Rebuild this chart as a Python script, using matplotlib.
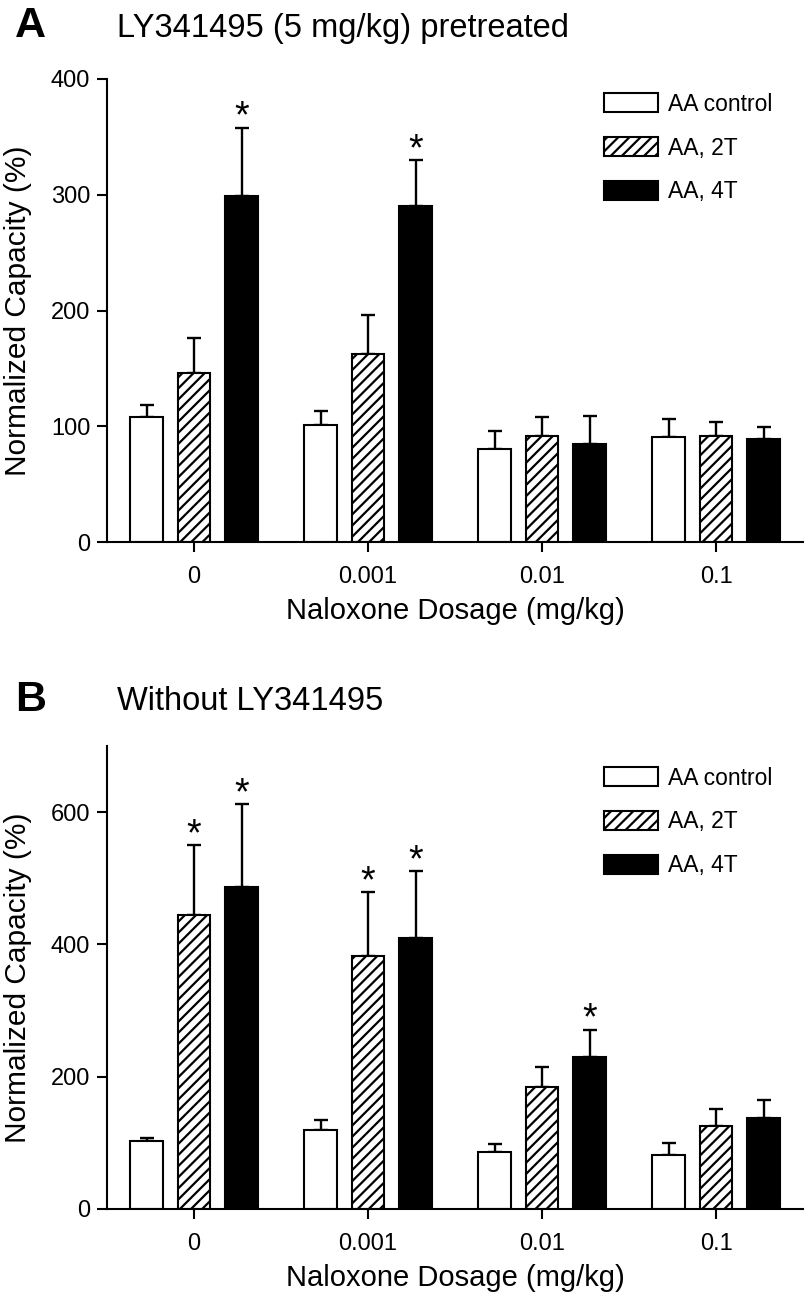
import numpy as np
import matplotlib
matplotlib.use('Agg')
import matplotlib.pyplot as plt
from matplotlib.patches import Patch

plt.rcParams['font.family'] = ['Liberation Sans', 'DejaVu Sans']
plt.rcParams['hatch.linewidth'] = 1.6

# ── Data ──
doses = ['0', '0.001', '0.01', '0.1']
series = ['AA control', 'AA, 2T', 'AA, 4T']

# Panel A: LY341495 pretreated
a_control = [108, 101, 80, 91]
a_control_err = [10, 12, 16, 15]
a_2t = [146, 162, 92, 92]
a_2t_err = [30, 34, 16, 12]
a_4t = [299, 290, 85, 89]
a_4t_err = [59, 40, 24, 10]
a_stars = {2: [0, 1]}  # series index -> dose indices

# Panel B: without LY341495
b_control = [103, 119, 86, 82]
b_control_err = [4, 16, 12, 17]
b_2t = [444, 382, 185, 126]
b_2t_err = [106, 97, 30, 25]
b_4t = [487, 410, 229, 138]
b_4t_err = [125, 101, 42, 27]
b_stars = {1: [0, 1], 2: [0, 1, 2]}

faces = ['white', 'white', 'black']
hatches = [None, '///', None]
offsets = [-0.273, 0, 0.273]
width = 0.185

fig = plt.figure(figsize=(8.06, 12.97), dpi=100)
axA = fig.add_axes([0.1328, 0.5821, 0.8635, 0.357])
axB = fig.add_axes([0.1328, 0.0679, 0.8635, 0.357])


def draw_panel(ax, vals, errs, stars, ylim, yticks, leg_y):
    x = np.arange(len(doses))
    for i in range(3):
        xs = x + offsets[i]
        ax.bar(xs, vals[i], width, color=faces[i], edgecolor='black',
               linewidth=1.5, hatch=hatches[i], zorder=2)
        ax.errorbar(xs, vals[i], yerr=[np.zeros(len(x)), errs[i]], fmt='none',
                    ecolor='black', elinewidth=1.7, capsize=5, capthick=1.7, zorder=1)
        for j in stars.get(i, []):
            ax.annotate('*', xy=(xs[j], vals[i][j] + errs[i][j]),
                        xytext=(0, 0), textcoords='offset points',
                        ha='center', va='baseline', fontsize=27)
    ax.set_xlim(-0.5, 3.5)
    ax.set_ylim(*ylim)
    ax.set_yticks(yticks)
    ax.set_xticks(x)
    ax.set_xticklabels(doses)
    ax.spines['top'].set_visible(False)
    ax.spines['right'].set_visible(False)
    ax.spines['left'].set_linewidth(1.5)
    ax.spines['bottom'].set_linewidth(1.5)
    ax.tick_params(axis='both', direction='out', length=7, width=1.5, labelsize=17)
    ax.tick_params(axis='x', pad=10)
    ax.tick_params(axis='y', pad=5)
    ax.set_xlabel('Naloxone Dosage (mg/kg)', fontsize=21)
    ax.set_ylabel('Normalized Capacity (%)', fontsize=21.5)
    ax.xaxis.label.set_va('center')
    ax.xaxis.set_label_coords(0.5, -0.15)
    ax.yaxis.label.set_va('center')
    ax.yaxis.set_label_coords(-0.128, 0.5)

    handles = [Patch(facecolor=faces[i], edgecolor='black', linewidth=1.5,
                     hatch=hatches[i], label=series[i]) for i in range(3)]
    ax.legend(handles=handles, loc='upper left', bbox_to_anchor=(0.714, leg_y),
              frameon=False, fontsize=16.5, handlelength=2.35, handleheight=0.9,
              labelspacing=0.9, handletextpad=0.45, borderpad=0, borderaxespad=0)


draw_panel(axA, [a_control, a_2t, a_4t], [a_control_err, a_2t_err, a_4t_err],
           a_stars, (0, 400), [0, 100, 200, 300, 400], 0.97)
draw_panel(axB, [b_control, b_2t, b_4t], [b_control_err, b_2t_err, b_4t_err],
           b_stars, (0, 700), [0, 200, 400, 600], 0.955)

fig.text(15 / 806, 1 - 26 / 1297, 'A', fontsize=31, fontweight='bold', va='center')
fig.text(117 / 806, 1 - 28 / 1297, 'LY341495 (5 mg/kg) pretreated', fontsize=23.5, va='center')
fig.text(15 / 806, 1 - 700 / 1297, 'B', fontsize=31, fontweight='bold', va='center')
fig.text(117 / 806, 1 - 702 / 1297, 'Without LY341495', fontsize=23.5, va='center')

fig.savefig('out.png', dpi=100)
